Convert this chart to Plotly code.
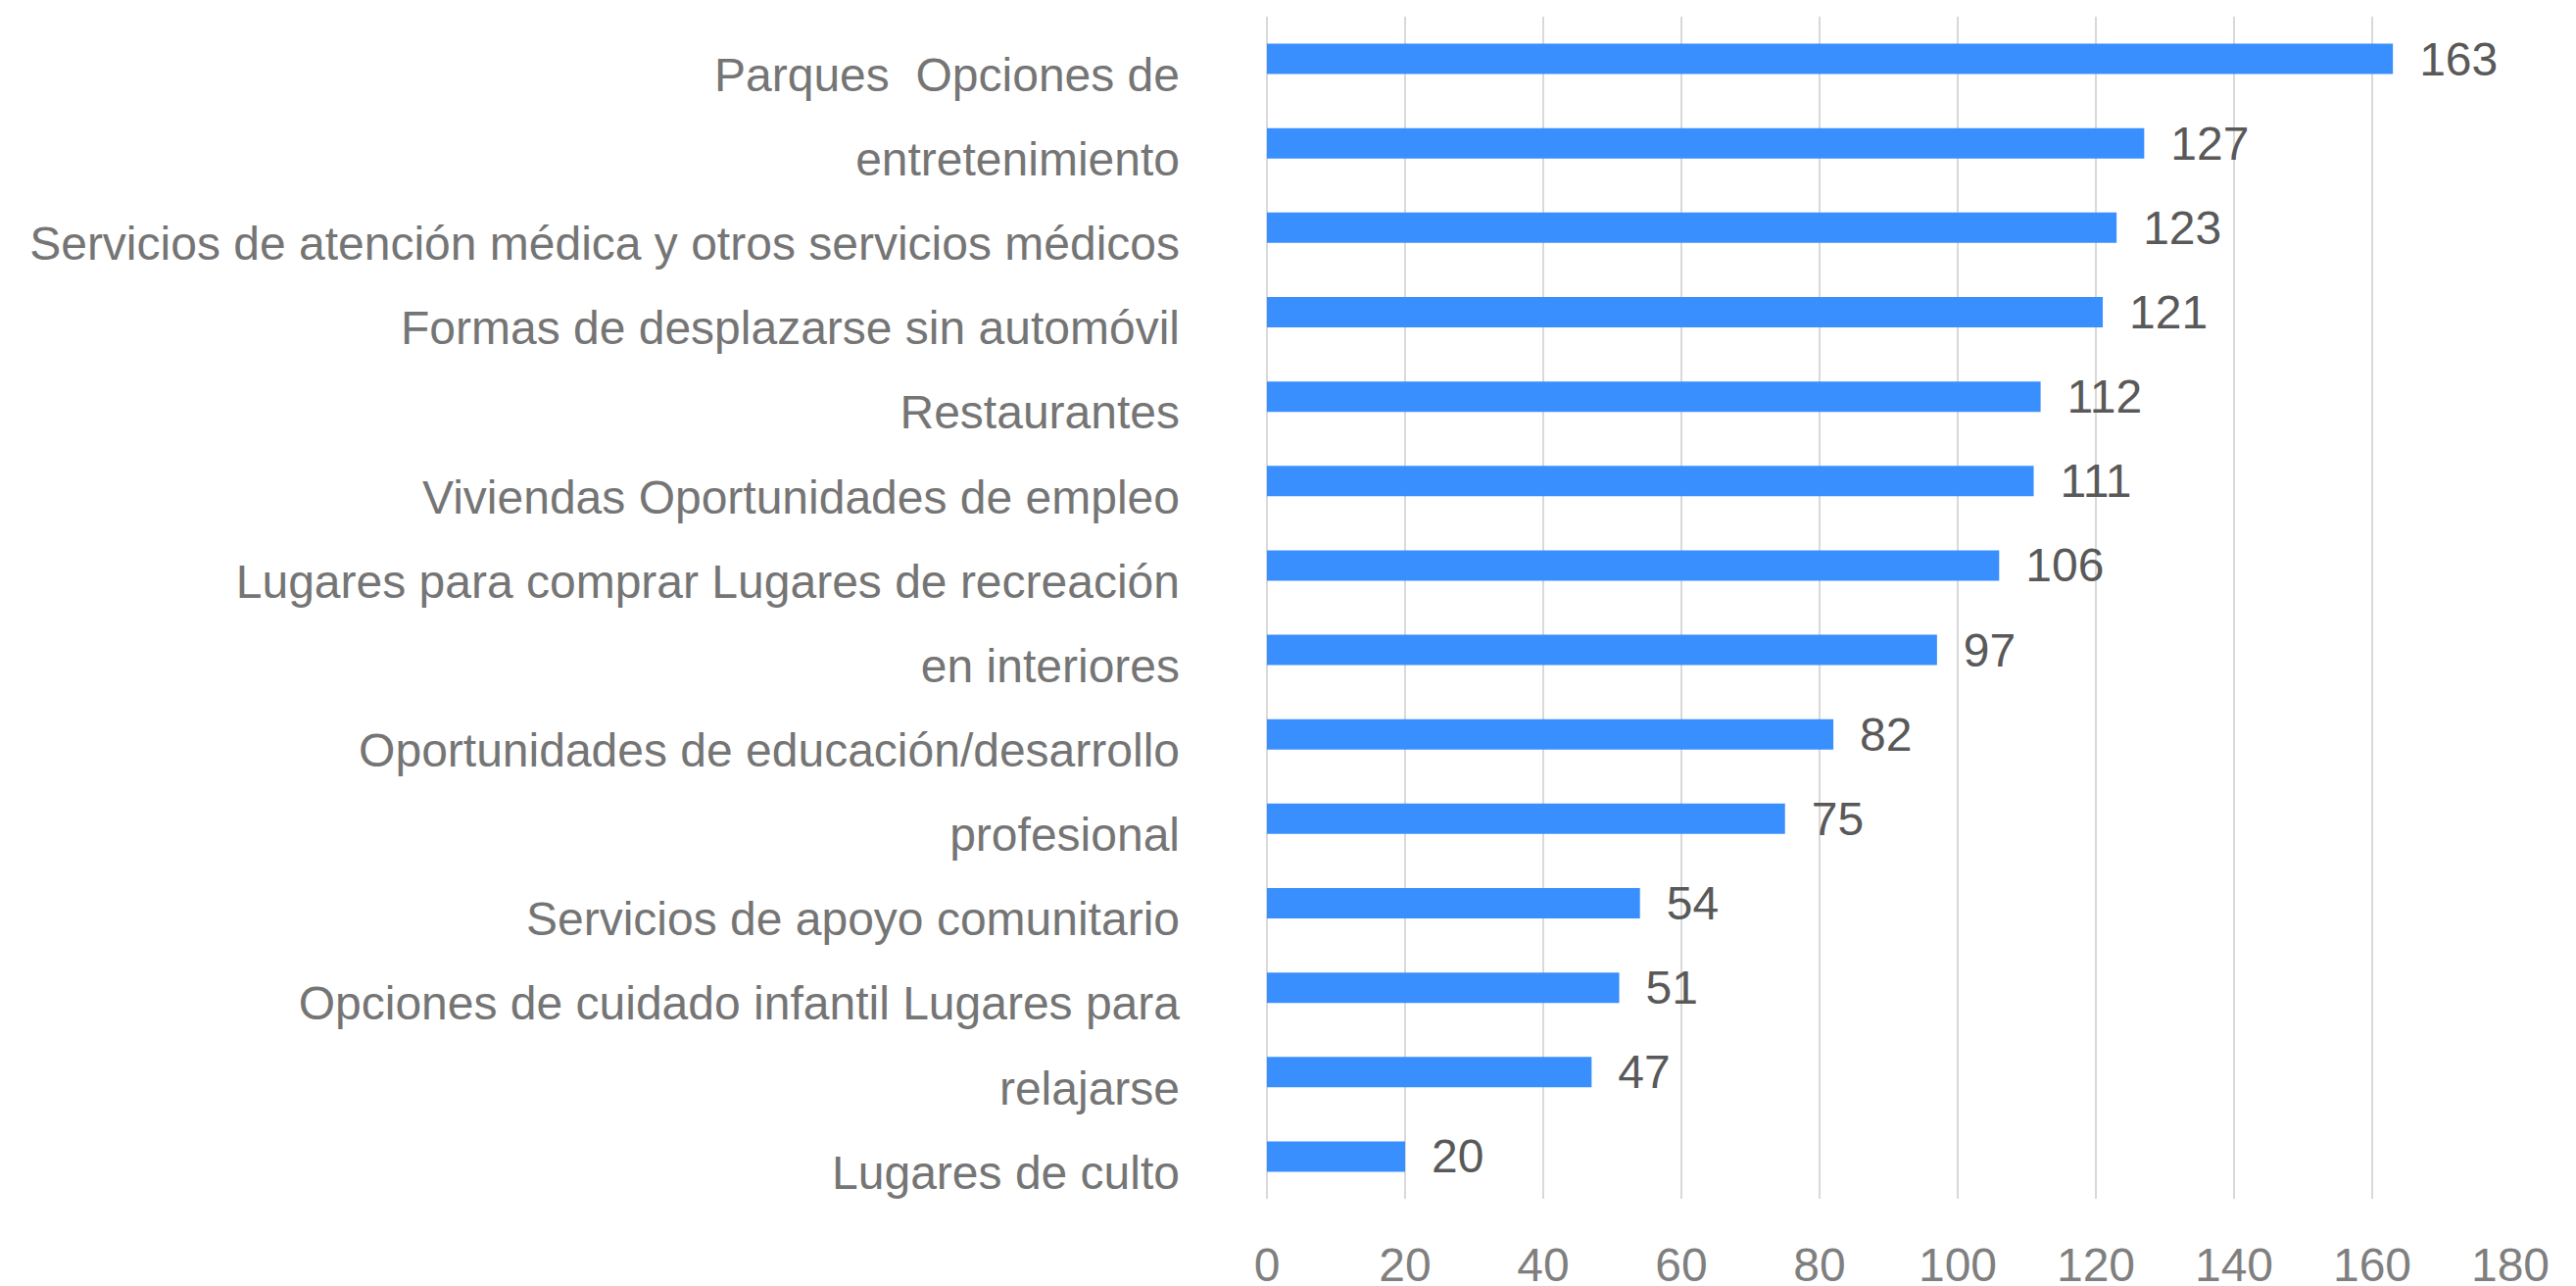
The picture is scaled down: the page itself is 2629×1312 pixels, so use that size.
import plotly.graph_objects as go

# Category labels (one per bar, top to bottom) and counts
categories = [
    "Parques\u00a0 Opciones de",
    "entretenimiento",
    "Servicios de atención médica y otros servicios médicos",
    "Formas de desplazarse sin automóvil",
    "Restaurantes",
    "Viviendas Oportunidades de empleo",
    "Lugares para comprar Lugares de recreación",
    "en interiores",
    "Oportunidades de educación/desarrollo",
    "profesional",
    "Servicios de apoyo comunitario",
    "Opciones de cuidado infantil Lugares para",
    "relajarse",
    "Lugares de culto",
]
counts = [163, 127, 123, 121, 112, 111, 106, 97, 82, 75, 54, 51, 47, 20]
x_ticks = [0, 20, 40, 60, 80, 100, 120, 140, 160, 180]

FONT = "Liberation Sans Narrow, Arial Narrow, sans-serif"
BAR_COLOR = "#3A8FFE"
GRID = "#D9D9D9"

fig = go.Figure()

fig.add_trace(
    go.Bar(
        y=categories,
        x=counts,
        orientation="h",
        marker=dict(color=BAR_COLOR, line=dict(width=0)),
        texttemplate="\u2002%{x}",
        textposition="outside",
        constraintext="none",
        textfont=dict(family=FONT, size=48, color="#595959"),
        cliponaxis=False,
        hoverinfo="x+y",
    )
)

# page body has an 8px margin, so offsets are shifted by 8
fig.update_layout(
    width=2629,
    height=1312,
    paper_bgcolor="white",
    plot_bgcolor="white",
    showlegend=False,
    bargap=0.64,
    margin=dict(l=1285, r=75, t=9, b=97),
    font=dict(family=FONT, color="#7F7F7F"),
)

fig.update_xaxes(
    range=[0, 180],
    tickvals=x_ticks,
    automargin=False,
    showgrid=True,
    gridcolor=GRID,
    gridwidth=2,
    zeroline=True,
    zerolinecolor=GRID,
    zerolinewidth=2,
    showline=False,
    ticks="",
    ticklabelstandoff=35,
    tickfont=dict(family=FONT, size=48, color="#7F7F7F"),
)

fig.update_yaxes(
    autorange="reversed",
    automargin=False,
    showgrid=False,
    zeroline=False,
    showline=False,
    ticks="",
    ticklabelstandoff=88,
    ticklabelshift=-16,
    tickfont=dict(family=FONT, size=48, color="#757575"),
)

fig.write_html("out.html")
